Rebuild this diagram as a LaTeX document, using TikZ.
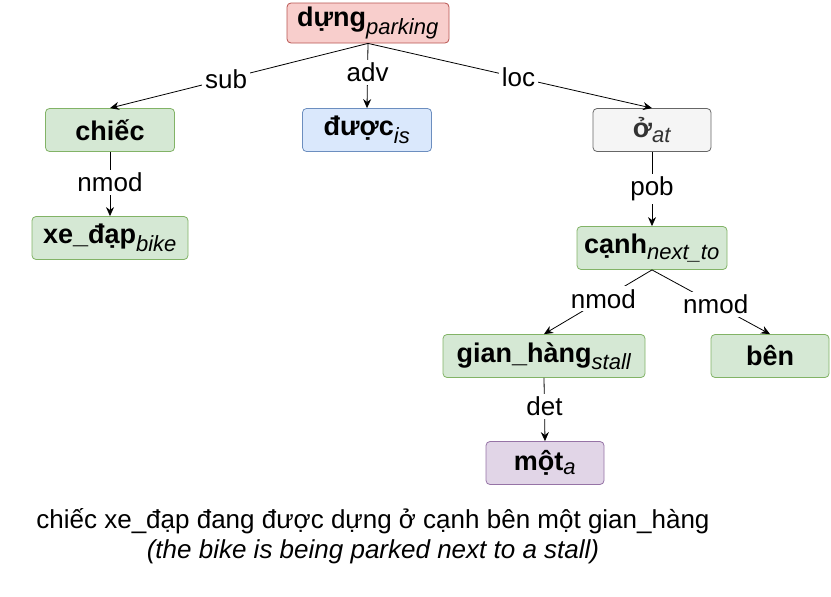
\documentclass[tikz,border=0pt]{standalone}
\usepackage{fontspec}
\setmainfont{Liberation Sans}
\usetikzlibrary{arrows.meta}
\definecolor{redF}{HTML}{F8CECC}\definecolor{redD}{HTML}{B85450}
\definecolor{grnF}{HTML}{D5E8D4}\definecolor{grnD}{HTML}{82B366}
\definecolor{bluF}{HTML}{DAE8FC}\definecolor{bluD}{HTML}{6C8EBF}
\definecolor{gryF}{HTML}{F5F5F5}\definecolor{gryD}{HTML}{666666}
\definecolor{purF}{HTML}{E1D5E7}\definecolor{purD}{HTML}{9673A6}
\tikzset{
 box/.style={rounded corners=4pt, minimum height=43pt, inner sep=1pt, font=\fontsize{27}{30}\selectfont\bfseries, line width=0.8pt},
 rbox/.style={box, fill=redF, draw=redD},
 gbox/.style={box, fill=grnF, draw=grnD},
 bbox/.style={box, fill=bluF, draw=bluD},
 ybox/.style={box, fill=gryF, draw=gryD},
 pbox/.style={box, fill=purF, draw=purD},
 edge/.style={-{Stealth[length=9pt,width=8pt]}, line width=0.8pt},
 lab/.style={fill=white, inner sep=3pt, font=\fontsize{26}{28}\selectfont},
}
\newcommand{\sbs}[1]{$_{\textit{\fontsize{22}{24}\selectfont\mdseries #1}}$}
\begin{document}
\begin{tikzpicture}[x=1pt,y=-1pt]
\useasboundingbox (0,0) rectangle (831,597);
\node[rbox, minimum width=162pt, minimum height=40pt] (dung) at (368,23) {dựng\sbs{parking}};
\node[gbox, minimum width=129pt] (chiec) at (110,130) {chiếc};
\node[bbox, minimum width=129pt] (duoc) at (367,130) {được\sbs{is}};
\node[ybox, minimum width=118pt] (o) at (652,130) {\color{black!80}ở\sbs{at}};
\node[gbox, minimum width=156pt] (xe) at (110,238) {xe\_đạp\sbs{bike}};
\node[gbox, minimum width=150pt] (canh) at (652,248) {cạnh\sbs{next\_to}};
\node[gbox, minimum width=202pt] (gian) at (544,356) {gian\_hàng\sbs{stall}};
\node[gbox, minimum width=118pt] (ben) at (770,356) {bên};
\node[pbox, minimum width=118pt] (mot) at (545,463) {một\sbs{a}};
\draw[edge] (dung.south) -- node[lab,pos=0.55]{sub} (chiec.north);
\draw[edge] (dung.south) -- node[lab,pos=0.45]{adv} (duoc.north);
\draw[edge] (dung.south) -- node[lab,pos=0.53]{loc} (o.north);
\draw[edge] (chiec.south) -- node[lab,pos=0.47]{nmod} (xe.north);
\draw[edge] (o.south) -- node[lab,pos=0.5]{pob} (canh.north);
\draw[edge] (canh.south) -- node[lab,pos=0.45]{nmod} (gian.north);
\draw[edge] (canh.south) -- node[lab,pos=0.54]{nmod} (ben.north);
\draw[edge] (gian.south) -- node[lab,pos=0.45]{det} (mot.north);
\node[font=\fontsize{26}{30}\selectfont] (s1) at (373,521) {chiếc xe\_đạp đang được dựng ở cạnh bên một gian\_hàng};
\node[font=\fontsize{26}{30}\selectfont\itshape] (s2) at (373,552) {(the bike is being parked next to a stall)};
\end{tikzpicture}
\end{document}
